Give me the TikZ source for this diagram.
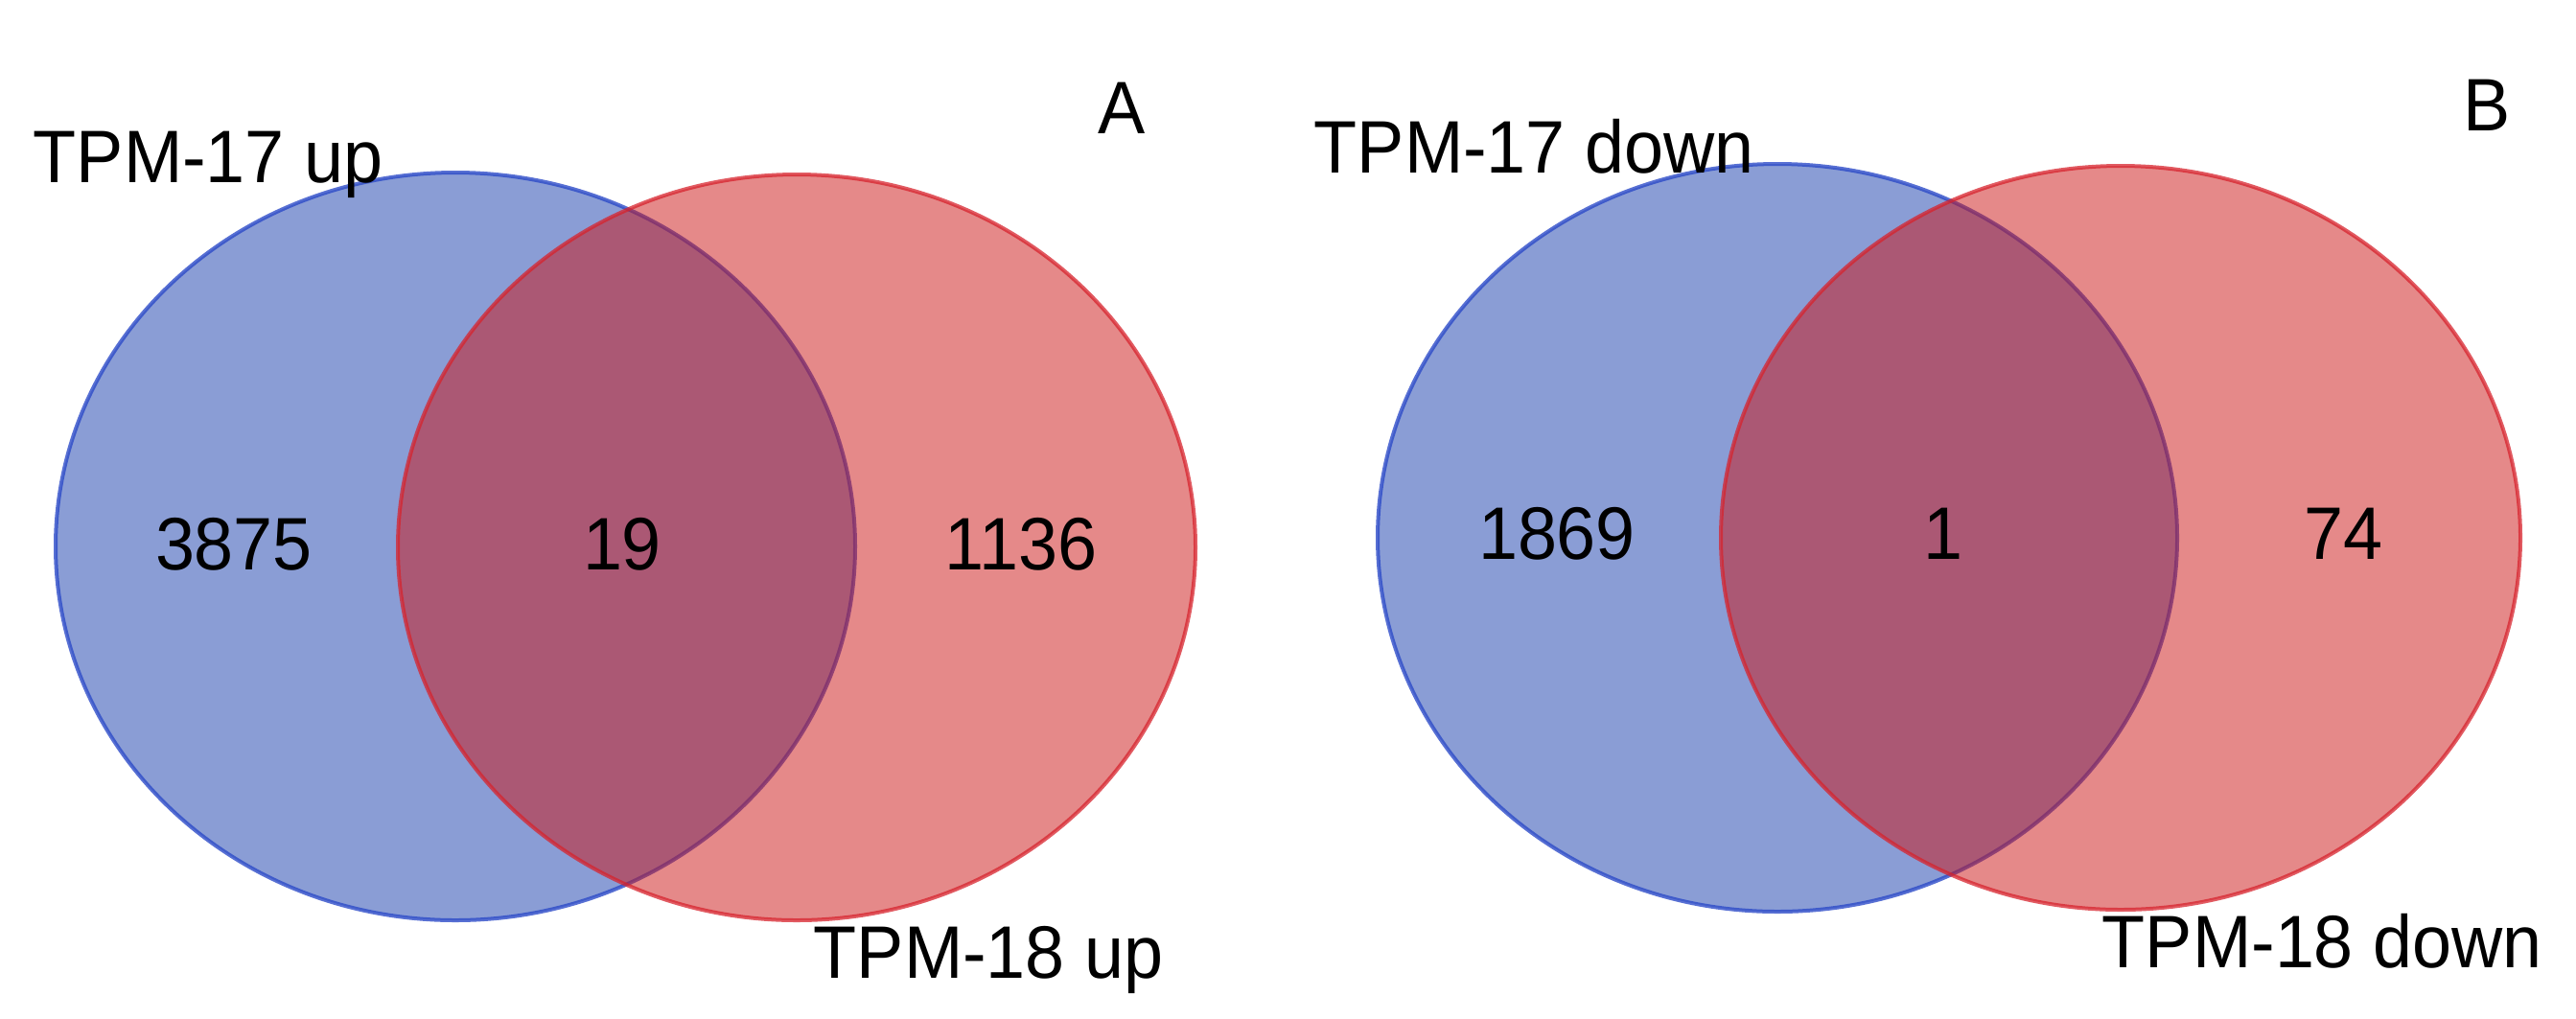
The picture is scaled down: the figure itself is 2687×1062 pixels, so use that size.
\documentclass[tikz,border=0pt]{standalone}
\usepackage{fontspec}
\setmainfont[FakeStretch=0.95]{Liberation Sans}
\definecolor{setblue}{RGB}{23,61,173}
\definecolor{setred}{RGB}{205,21,21}
\definecolor{lineblue}{RGB}{45,75,200}
\definecolor{linered}{RGB}{215,35,45}
\begin{document}
\begin{tikzpicture}[x=0.25pt,y=-0.25pt,
  lbl/.style={font=\fontsize{19.4pt}{23pt}\selectfont, inner sep=0pt, text=black},
  bluesetstyle/.style={fill=setblue, fill opacity=0.5, draw=lineblue, draw opacity=0.8, line width=1pt},
  redsetstyle/.style={fill=setred, fill opacity=0.5, draw=linered, draw opacity=0.75, line width=1pt}]
\useasboundingbox (0,0) rectangle (2687,1062);
\fill[white] (0,0) rectangle (2687,1062);
% Panel A
\draw[bluesetstyle] (475,570) ellipse [x radius=417, y radius=390];
\draw[redsetstyle] (831,571) ellipse [x radius=416, y radius=389];
\node[lbl, anchor=base west] (a17) at (34,190) {TPM-17 up};
\node[lbl, anchor=base west] (a18) at (848,1020) {TPM-18 up};
\node[lbl, anchor=base] (a1only) at (244,594) {3875};
\node[lbl, anchor=base] (aboth) at (649,594) {19};
\node[lbl, anchor=base] (a2only) at (1065,594) {1136};
\node[lbl, anchor=base] (atag) at (1170,139) {A};
% Panel B
\draw[bluesetstyle] (1854,561) ellipse [x radius=417, y radius=390];
\draw[redsetstyle] (2212,561) ellipse [x radius=417, y radius=388];
\node[lbl, anchor=base west] (b17) at (1370,180) {TPM-17 down};
\node[lbl, anchor=base west] (b18) at (2192,1009) {TPM-18 down};
\node[lbl, anchor=base] (b1only) at (1624,583) {1869};
\node[lbl, anchor=base] (bboth) at (2027,583) {1};
\node[lbl, anchor=base] (b2only) at (2444,583) {74};
\node[lbl, anchor=base] (btag) at (2594,136) {B};
\end{tikzpicture}
\end{document}
